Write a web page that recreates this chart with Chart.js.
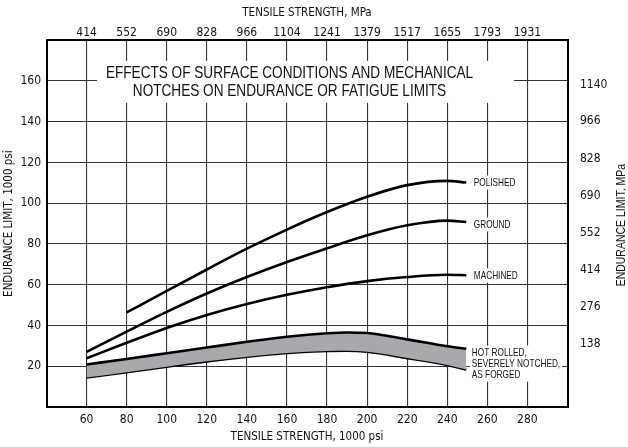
<!DOCTYPE html>
<html>
<head>
<meta charset="utf-8">
<script src="https://cdn.jsdelivr.net/npm/chart.js@4"></script>
<style>
  html, body { margin: 0; padding: 0; background: #fff; }
  #wrap { width: 628px; height: 447px; }
</style>
</head>
<body>
<div id="wrap"><canvas id="fatigueChart" width="628" height="447"></canvas></div>
<script>
// ============================
// Data
// ============================
const bottomTicks = [60, 80, 100, 120, 140, 160, 180, 200, 220, 240, 260, 280];
const topTickLabels = ["414", "552", "690", "828", "966", "1104", "1241", "1379", "1517", "1655", "1793", "1931"];
const leftTicks = [20, 40, 60, 80, 100, 120, 140, 160];
const rightTickValues = [138, 276, 414, 552, 690, 828, 966, 1103];
const rightTickLabels = ["138", "276", "414", "552", "690", "828", "966", "1140"];

const polishedX = [80, 100, 120, 140, 160, 180, 200, 220, 240, 249.5];
const polishedY = [46.4, 57.0, 67.5, 77.7, 87.1, 95.7, 103.2, 108.9, 111.0, 110.2];

const ground_machinedX = [60, 80, 100, 120, 140, 160, 180, 200, 220, 240, 249.5];
const groundY = [27.1, 37.0, 46.7, 55.7, 63.8, 71.2, 77.9, 84.3, 89.2, 91.5, 90.8];
const machinedY = [23.9, 31.5, 38.8, 45.2, 50.6, 55.1, 58.8, 61.8, 63.8, 64.9, 64.7];

const hotRolledX = [60, 80, 100, 120, 140, 160, 180, 190, 200, 220, 240, 249.5];
const hotRolledUpperY = [20.9, 23.6, 26.4, 29.2, 32.0, 34.5, 36.2, 36.6, 36.3, 33.2, 29.8, 28.6];
const hotRolledLowerY = [14.5, 17.1, 19.8, 22.4, 24.7, 26.5, 27.5, 27.6, 27.1, 24.0, 20.6, 18.4];

const chartTitle = ["EFFECTS OF SURFACE CONDITIONS AND MECHANICAL", "NOTCHES ON ENDURANCE OR FATIGUE LIMITS"];
const curveLabels = [["POLISHED"], ["GROUND"], ["MACHINED"], ["HOT ROLLED,", "SEVERELY NOTCHED,", "AS FORGED"]];

// axis text: condensed face that is installed
const AXIS_FONT = "'DejaVu Sans Condensed', sans-serif";
// free text: Liberation Sans squeezed to look like a condensed Helvetica
const NARROW = "'Liberation Sans', Arial, sans-serif";

function toPoints(xs, ys) {
  return xs.map((x, i) => ({ x: x, y: ys[i] }));
}

function curve(label, xs, ys, extra) {
  return Object.assign({
    label: label,
    data: toPoints(xs, ys),
    borderColor: "#000",
    borderWidth: 2.6,
    pointRadius: 0,
    fill: false,
    cubicInterpolationMode: "monotone",
    xAxisID: "x",
    yAxisID: "y"
  }, extra || {});
}

// draw text squeezed horizontally
function narrowText(ctx, text, x, y, size, squeeze, align) {
  ctx.save();
  ctx.font = size + "px " + NARROW;
  ctx.textAlign = align || "left";
  ctx.textBaseline = "middle";
  ctx.translate(x, y);
  ctx.scale(squeeze, 1);
  ctx.fillText(text, 0, 0);
  ctx.restore();
}

function narrowWidth(ctx, text, size, squeeze) {
  ctx.save();
  ctx.font = size + "px " + NARROW;
  const w = ctx.measureText(text).width * squeeze;
  ctx.restore();
  return w;
}

// ============================
// Title box, curve labels, right axis title
// ============================
const annotations = {
  id: "annotations",
  afterDatasetsDraw(chart) {
    const ctx = chart.ctx;
    const ca = chart.chartArea;
    ctx.save();

    // white box holding the title
    ctx.fillStyle = "#fff";
    ctx.fillRect(ca.left + 50.5, ca.top + 20.5, 417, 42);
    ctx.fillStyle = "#111";
    narrowText(ctx, chartTitle[0], ca.left + 243, ca.top + 32.8, 17, 0.8, "center");
    narrowText(ctx, chartTitle[1], ca.left + 243, ca.top + 50.8, 17, 0.8, "center");

    // labels at the curve ends
    const ends = [0, 1, 2].map(i => {
      const pts = chart.getDatasetMeta(i).data;
      return pts[pts.length - 1];
    });
    const hotTop = chart.getDatasetMeta(3).data;
    const hotBot = chart.getDatasetMeta(4).data;
    const hotMid = (hotTop[hotTop.length - 1].y + hotBot[hotBot.length - 1].y) / 2;
    const anchors = [
      { x: ends[0].x + 7.5, y: ends[0].y },
      { x: ends[1].x + 7.5, y: ends[1].y + 2.5 },
      { x: ends[2].x + 7.5, y: ends[2].y + 0.3 },
      { x: ends[2].x + 5.5, y: hotMid + 4.5 }
    ];
    const size = 11, squeeze = 0.75, lh = 11;
    curveLabels.forEach((lines, i) => {
      const a = anchors[i];
      const y0 = a.y - (lines.length - 1) * lh / 2;
      const w = Math.max(...lines.map(t => narrowWidth(ctx, t, size, squeeze)));
      ctx.fillStyle = "#fff";
      ctx.fillRect(a.x - 2, y0 - 7, w + 4, (lines.length - 1) * lh + 14);
      ctx.fillStyle = "#111";
      lines.forEach((t, j) => narrowText(ctx, t, a.x, y0 + j * lh, size, squeeze, "left"));
    });

    // right axis title reads bottom to top
    ctx.translate(621.5, (ca.top + ca.bottom) / 2 + 1.5);
    ctx.rotate(-Math.PI / 2);
    narrowText(ctx, "ENDURANCE LIMIT, MPa", 0, 0, 12.8, 0.82, "center");
    ctx.restore();
  }
};

// ============================
// Chart
// ============================
const tickFont = { family: AXIS_FONT, size: 12 };
const titleFont = { family: AXIS_FONT, size: 11.5 };
const gridStyle = { color: "#333", lineWidth: 1.1, drawTicks: false };
const borderStyle = { display: true, color: "#000", width: 2 };

new Chart(document.getElementById("fatigueChart"), {
  type: "line",
  data: {
    datasets: [
      curve("Polished", polishedX, polishedY),
      curve("Ground", ground_machinedX, groundY),
      curve("Machined", ground_machinedX, machinedY),
      curve("Hot rolled upper", hotRolledX, hotRolledUpperY, { fill: "+1", backgroundColor: "#a8a9ad" }),
      curve("Hot rolled lower", hotRolledX, hotRolledLowerY)
    ]
  },
  options: {
    responsive: false,
    devicePixelRatio: 1,
    animation: false,
    layout: { padding: 0 },
    plugins: {
      legend: { display: false },
      tooltip: { enabled: false }
    },
    scales: {
      x: {
        type: "linear",
        position: "bottom",
        min: 40,
        max: 300,
        afterBuildTicks: s => { s.ticks = bottomTicks.map(v => ({ value: v })); },
        afterFit: s => { s.height = 40; },
        ticks: { color: "#111", font: tickFont, padding: 6, autoSkip: false, maxRotation: 0 },
        grid: gridStyle,
        border: borderStyle,
        title: { display: true, text: "TENSILE STRENGTH, 1000 psi", color: "#111", font: titleFont, padding: { top: 0, bottom: 3 } }
      },
      x2: {
        type: "linear",
        position: "top",
        min: 40,
        max: 300,
        afterBuildTicks: s => { s.ticks = bottomTicks.map(v => ({ value: v })); },
        afterFit: s => { s.height = 40.3; },
        ticks: {
          color: "#111", font: tickFont, padding: 0, autoSkip: false, maxRotation: 0,
          callback: (v, i) => topTickLabels[i]
        },
        grid: { display: false, drawTicks: false },
        border: borderStyle,
        title: { display: true, text: "TENSILE STRENGTH, MPa", color: "#111", font: titleFont, padding: { top: 6, bottom: 0 } }
      },
      y: {
        type: "linear",
        position: "left",
        min: 0,
        max: 180,
        afterBuildTicks: s => { s.ticks = leftTicks.map(v => ({ value: v })); },
        afterFit: s => { s.width = 46.5; },
        ticks: { color: "#111", font: tickFont, padding: 5.5 },
        grid: gridStyle,
        border: borderStyle,
        title: { display: true, text: "ENDURANCE LIMIT, 1000 psi", color: "#111", font: titleFont, padding: { top: 2.5, bottom: 0 } }
      },
      y2: {
        type: "linear",
        position: "right",
        min: -96,
        max: 1267,
        afterBuildTicks: s => { s.ticks = rightTickValues.map(v => ({ value: v })); },
        afterFit: s => { s.width = 60.5; },
        ticks: {
          color: "#111", font: tickFont, padding: 12.5,
          callback: (v, i) => rightTickLabels[i]
        },
        grid: { display: false, drawTicks: false },
        border: borderStyle
      }
    }
  },
  plugins: [annotations]
});
</script>
</body>
</html>
